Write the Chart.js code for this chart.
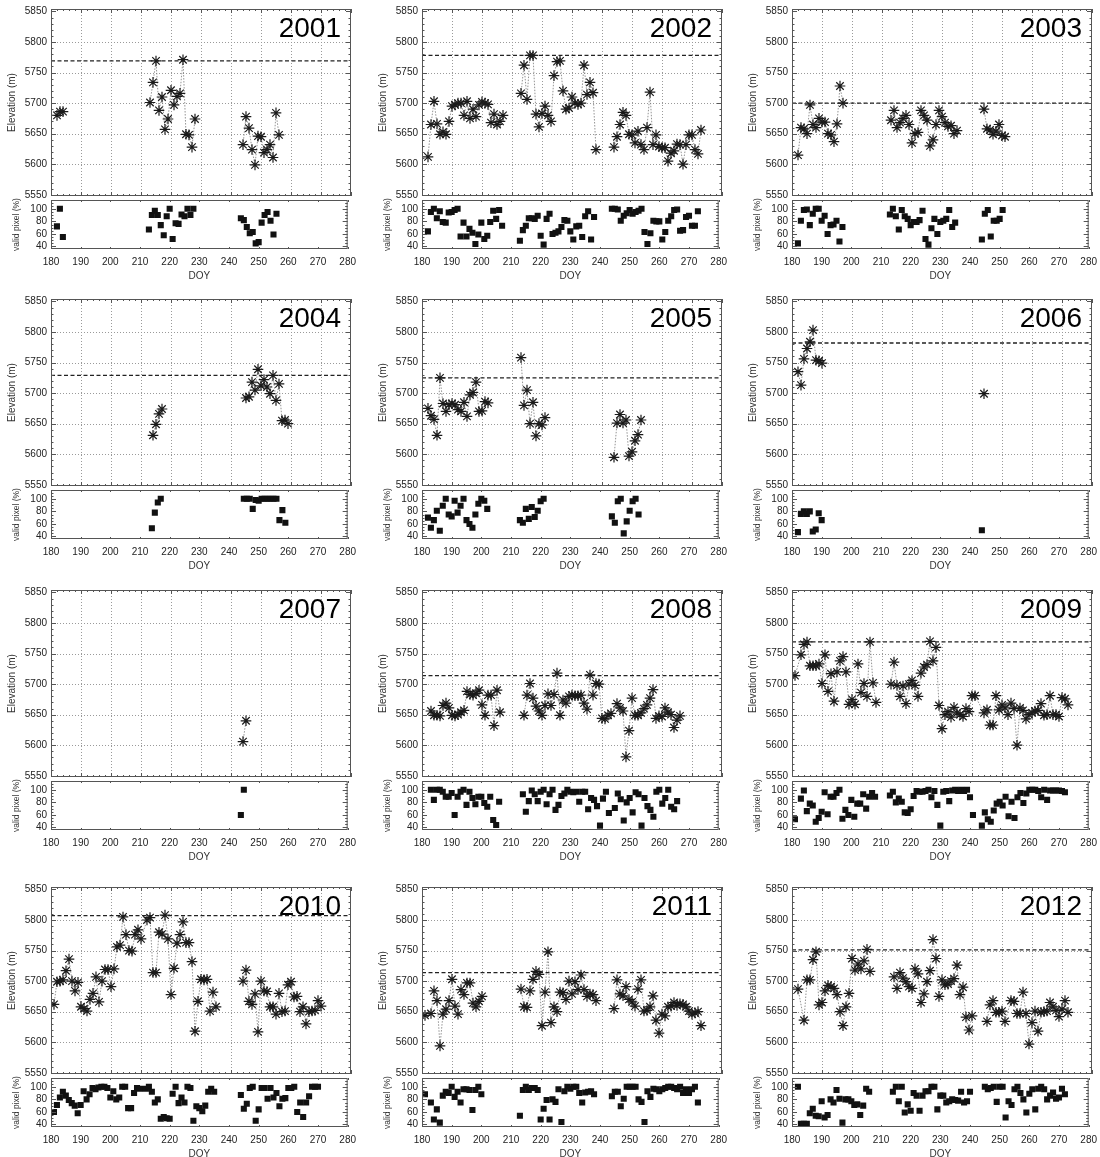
<!DOCTYPE html>
<html>
<head>
<meta charset="utf-8">
<script src="https://cdn.jsdelivr.net/npm/chart.js@4.4.1/dist/chart.umd.min.js"></script>
<style>
  body { margin: 0; background: #fff; overflow: hidden; }
  #page { position: relative; width: 1100px; height: 1157px; }
  canvas { position: absolute; }
</style>
</head>
<body>
<div id="page"></div>
<script>
// axis ticks
const doyTicks = [180, 190, 200, 210, 220, 230, 240, 250, 260, 270, 280];
const elevTicks = [5550, 5600, 5650, 5700, 5750, 5800, 5850];
const pixTicks = [40, 60, 80, 100];

const years = [2001, 2002, 2003, 2004, 2005, 2006, 2007, 2008, 2009, 2010, 2011, 2012];
// dashed reference elevation per year (none in 2007)
const snowLine = [5769, 5778, 5700, 5729, 5725, 5782, null, 5714, 5769, 5807, 5714, 5751];

const doy2001 = [182,183,184, 213,214,215,216,217,218,219,220,221,222,223,224,225,226,227,228, 244,245,246,247,248,249,250,251,252,253,254,255,256];
const elev2001 = [5680,5686,5686, 5701,5734,5769,5688,5710,5657,5674,5721,5697,5711,5716,5771,5649,5648,5628,5674, 5632,5678,5659,5624,5599,5646,5645,5619,5624,5632,5611,5684,5648];
const pix2001 = [72,100,55, 67,90,97,90,74,58,88,100,52,77,76,91,88,100,90,100, 85,82,71,61,63,45,47,78,90,95,81,59,92];

const doy2002 = [182,183,184,185,186,187,188,189,190,191,192,193,194,195,196,197,198,199,200,201,202,203,204,205,206,207,
  213,214,215,216,217,218,219,220,221,222,223,224,225,226,227,228,229,230,231,232,233,234,235,236,237,238,
  244,245,246,247,248,249,250,251,252,253,254,255,256,257,258,259,260,261,262,263,264,265,266,267,268,269,270,271,272,273];
const elev2002 = [5612,5665,5703,5666,5649,5653,5649,5670,5695,5697,5700,5700,5680,5703,5675,5690,5678,5697,5702,5700,5698,5668,5682,5665,5670,5680,
  5716,5762,5706,5778,5778,5682,5661,5683,5695,5680,5670,5745,5768,5769,5720,5690,5692,5710,5700,5698,5700,5762,5714,5734,5717,5624,
  5628,5645,5665,5685,5680,5649,5648,5635,5654,5632,5624,5660,5718,5632,5648,5629,5627,5627,5605,5618,5622,5633,5632,5600,5632,5648,5648,5624,5617,5656];
const pix2002 = [64,95,100,85,96,79,78,94,95,98,100,56,78,56,68,62,44,59,78,52,57,79,97,84,98,73,
  49,66,73,85,85,84,89,57,43,84,92,60,62,64,71,82,81,64,51,72,73,55,88,96,51,87,
  100,100,99,81,89,93,98,92,95,97,100,63,44,61,81,80,80,51,63,81,88,98,99,65,66,87,89,73,73,96];

const doy2003 = [182,183,184,185,186,187,188,189,190,191,192,193,194,195,196,197,
  213,214,215,216,217,218,219,220,221,222,223,224,225,226,227,228,229,230,231,232,233,234,235,
  244,245,246,247,248,249,250,251];
const elev2003 = [5615,5660,5658,5650,5697,5665,5660,5675,5669,5669,5650,5648,5637,5666,5728,5700,
  5672,5688,5660,5668,5675,5680,5665,5635,5650,5652,5688,5680,5672,5630,5640,5665,5688,5678,5668,5662,5663,5650,5655,
  5690,5658,5656,5649,5654,5665,5647,5645];
const pix2003 = [45,81,98,99,74,92,100,100,81,89,60,74,75,81,48,71,
  91,100,88,67,98,88,84,74,79,79,82,97,52,43,69,84,60,79,81,84,98,71,78,
  51,92,98,56,81,81,84,98];

const doy2004 = [214,215,216,217, 245,246,247,248,249,250,251,252,253,254,255,256,257,258,259];
const elev2004 = [5631,5649,5666,5674, 5692,5694,5718,5705,5739,5712,5722,5710,5699,5729,5688,5715,5655,5656,5650];
const pix2004 = [53,78,94,100, 100,100,100,84,98,97,100,100,100,100,100,100,66,82,62];

const doy2005 = [182,183,184,185,186,187,188,189,190,191,192,193,194,195,196,197,198,199,200,201,202,
  213,214,215,216,217,218,219,220,221, 244,245,246,247,248,249,250,251,252,253];
const elev2005 = [5675,5663,5657,5631,5725,5683,5670,5681,5683,5681,5673,5670,5685,5662,5697,5701,5718,5670,5671,5686,5684,
  5758,5680,5705,5650,5685,5630,5650,5648,5660, 5595,5651,5665,5651,5656,5597,5604,5622,5632,5656];
const pix2005 = [70,54,66,81,49,89,100,75,72,97,78,89,100,66,60,54,75,92,100,97,84,
  66,62,84,68,87,71,81,96,100, 72,62,96,100,45,64,81,96,100,75];

const doy2006 = [182,183,184,185,186,187,188,189,190, 244];
const elev2006 = [5735,5713,5756,5773,5784,5803,5754,5753,5749, 5699];
const pix2006 = [47,76,80,76,80,48,51,77,66, 50];

const doy2007 = [244, 245];
const elev2007 = [5606, 5640];
const pix2007 = [60, 100];

const doy2008 = [183,184,185,186,187,188,189,190,191,192,193,194,195,196,197,198,199,200,201,202,203,204,205,206,
  214,215,216,217,218,219,220,221,222,223,224,225,226,227,228,229,230,231,232,233,234,235,236,237,238,239,240,241,242,243,
  245,246,247,248,249,250,251,252,253,254,255,256,257,258,259,260,261,262,263,264,265,266];
const elev2008 = [5656,5649,5649,5648,5665,5669,5661,5649,5648,5650,5654,5657,5688,5683,5682,5685,5690,5666,5649,5682,5682,5632,5690,5654,
  5649,5682,5701,5677,5664,5656,5649,5665,5684,5665,5683,5718,5649,5674,5669,5680,5682,5681,5681,5682,5669,5659,5715,5682,5701,5700,5644,5643,5649,5652,
  5668,5661,5656,5581,5624,5677,5649,5649,5653,5660,5666,5677,5691,5644,5648,5647,5661,5654,5650,5629,5641,5648];
const pix2008 = [100,84,100,100,97,89,89,95,60,89,97,100,76,97,87,77,89,89,79,73,89,52,44,81,
  93,65,82,99,93,82,97,100,77,93,100,68,76,90,94,100,97,96,97,81,97,97,69,87,84,74,43,86,97,63,
  71,94,85,51,80,87,64,96,93,43,87,74,68,57,97,100,78,87,100,73,69,82];

const doy2009 = [181,183,184,185,186,187,188,189,190,191,192,193,194,195,196,197,198,199,200,201,202,203,204,205,206,207,208,
  213,214,215,216,217,218,219,220,221,222,223,224,225,226,227,228,229,230,231,232,233,234,235,236,237,238,239,240,241,
  244,245,246,247,248,249,250,251,252,253,254,255,256,257,258,259,260,261,262,263,264,265,266,267,268,269,270,271,272];
const elev2009 = [5714,5748,5765,5769,5730,5730,5730,5733,5701,5748,5688,5717,5672,5720,5738,5745,5720,5667,5675,5667,5733,5686,5701,5680,5769,5702,5670,
  5700,5736,5698,5680,5697,5668,5700,5706,5698,5680,5718,5728,5732,5770,5738,5760,5665,5627,5650,5655,5646,5662,5653,5650,5647,5660,5655,5681,5681,
  5653,5658,5633,5633,5681,5658,5666,5661,5650,5669,5660,5600,5661,5657,5643,5650,5653,5656,5657,5668,5649,5650,5681,5650,5650,5647,5678,5676,5666];
const pix2009 = [53,86,99,66,78,75,49,55,65,96,61,89,89,95,100,54,68,60,84,57,78,78,93,70,89,95,89,
  91,97,80,86,81,64,63,69,90,98,97,97,98,100,88,98,76,43,97,98,82,99,100,98,100,98,100,88,60,
  43,64,53,49,67,78,81,75,89,58,81,55,88,95,79,94,100,100,100,98,88,100,84,99,99,99,99,98,96];

const doy2010 = [181,182,183,184,185,186,187,188,189,190,191,192,193,194,195,196,197,198,199,200,201,202,203,204,205,206,207,208,209,210,
  212,213,214,215,216,217,218,219,220,221,222,223,224,225,226,227,228,229,230,231,232,233,234,235,
  244,245,246,247,248,249,250,251,252,253,254,255,256,257,258,259,260,261,262,263,264,265,266,267,268,269,270];
const elev2010 = [5662,5699,5700,5702,5717,5736,5700,5684,5698,5658,5655,5651,5670,5680,5707,5666,5700,5719,5719,5691,5720,5756,5759,5805,5776,5750,5749,5776,5784,5769,
  5800,5804,5714,5714,5780,5777,5808,5769,5678,5721,5762,5776,5797,5763,5763,5732,5618,5667,5703,5702,5703,5651,5682,5658,
  5700,5718,5667,5662,5679,5617,5700,5684,5683,5658,5658,5646,5680,5650,5651,5694,5699,5674,5675,5650,5658,5630,5650,5651,5652,5668,5659];
const pix2010 = [60,71,83,92,86,79,74,70,58,71,93,80,88,98,96,99,100,100,98,83,93,80,83,100,100,66,66,90,98,97,
  97,100,92,75,80,49,52,50,49,89,100,74,83,75,100,98,46,69,66,61,70,92,97,92,
  87,65,73,98,100,46,64,98,98,81,98,83,90,69,81,82,98,98,100,60,75,52,75,85,100,100,100];

const doy2011 = [181,183,184,185,186,187,188,189,190,191,192,193,194,195,196,197,198,199,200,
  213,214,215,216,217,218,219,220,221,222,223,224,225,226,227,228,229,230,231,232,233,234,235,236,237,238,
  244,245,246,247,248,249,250,251,252,253,254,255,256,257,258,259,260,261,262,263,264,265,266,267,268,269,270,271,272,273];
const elev2011 = [5644,5647,5684,5668,5594,5646,5654,5668,5703,5659,5646,5686,5678,5697,5697,5664,5658,5667,5675,
  5687,5658,5657,5684,5703,5716,5711,5627,5682,5748,5632,5658,5650,5682,5681,5670,5700,5679,5699,5686,5710,5686,5675,5679,5678,5668,
  5655,5702,5679,5676,5691,5670,5666,5659,5687,5702,5651,5652,5658,5676,5636,5615,5646,5643,5658,5659,5665,5660,5663,5662,5658,5651,5646,5648,5650,5627];
const pix2011 = [88,75,48,64,43,86,92,90,100,84,92,75,96,96,95,63,95,100,88,
  54,95,100,95,98,98,95,48,65,79,48,80,76,96,44,93,100,97,100,100,90,75,91,92,93,88,
  85,92,92,69,81,100,100,100,100,80,76,44,93,84,97,96,93,96,98,100,100,98,96,100,90,96,90,96,100,75];

const doy2012 = [182,183,184,185,186,187,188,189,190,191,192,193,194,195,196,197,198,199,200,201,202,203,204,205,206,
  214,215,216,217,218,219,220,221,222,223,224,225,226,227,228,229,230,231,232,233,234,235,236,237,238,239,240,
  245,246,247,248,249,250,251,252,253,254,255,256,257,258,259,260,261,262,263,264,265,266,267,268,269,270,271,272];
const elev2012 = [5687,null,5636,5702,5702,5735,5748,5661,5665,5684,5693,5691,5688,5678,5650,5627,5658,5680,5737,5718,5728,5720,5733,5752,5716,
  5707,5688,5714,5705,5699,5691,5688,5720,5712,5665,5679,5699,5717,5768,5737,5675,5702,5694,5695,5700,5704,5726,5678,5690,5641,5620,5643,
  5634,5661,5668,5649,5649,5651,5634,null,5668,5667,5647,5647,5682,5647,5597,5632,5651,5618,5649,5650,5651,5665,5658,5652,5642,5654,5668,5649];
const pix2012 = [100,41,41,41,58,65,54,53,77,51,55,80,75,95,81,43,80,80,77,71,72,55,70,97,92,
  92,100,77,100,59,72,62,90,86,62,86,93,93,100,100,64,86,86,75,77,80,79,78,92,75,77,92,
  100,96,98,100,76,100,100,51,77,71,96,100,90,80,59,89,96,64,97,100,96,80,86,91,81,83,97,88];

const doys = [doy2001, doy2002, doy2003, doy2004, doy2005, doy2006, doy2007, doy2008, doy2009, doy2010, doy2011, doy2012];
const elevs = [elev2001, elev2002, elev2003, elev2004, elev2005, elev2006, elev2007, elev2008, elev2009, elev2010, elev2011, elev2012];
const pixs = [pix2001, pix2002, pix2003, pix2004, pix2005, pix2006, pix2007, pix2008, pix2009, pix2010, pix2011, pix2012];

// page geometry
const colLeft = [0, 371, 741];
const rowTop = [7, 297, 588, 885];
const AXIS_W = 51, PLOT_W = 300, RIGHT_PAD = 12, PAD = 8;
const ELEV_H = 191, PIX_H = 51, DOY_H = 34;

Chart.defaults.font.family = '"Liberation Sans", Arial, Helvetica, sans-serif';
Chart.defaults.color = '#222';

// frame, inward ticks, dotted grid and the year label
const panelFrame = {
  id: 'panelFrame',
  beforeDatasetsDraw(chart, args, o) {
    if (!o.grid) return;
    const { ctx, chartArea: a, scales: { x, y } } = chart;
    ctx.save();
    ctx.strokeStyle = '#9a9a9a';
    ctx.lineWidth = 1;
    ctx.setLineDash([1, 2]);
    ctx.beginPath();
    doyTicks.slice(1, -1).forEach(v => {
      const px = Math.round(x.getPixelForValue(v)) + 0.5;
      ctx.moveTo(px, a.top); ctx.lineTo(px, a.bottom);
    });
    elevTicks.slice(1, -1).forEach(v => {
      const py = Math.round(y.getPixelForValue(v)) + 0.5;
      ctx.moveTo(a.left, py); ctx.lineTo(a.right, py);
    });
    ctx.stroke();
    ctx.restore();
  },
  afterDatasetsDraw(chart, args, o) {
    const { ctx, chartArea: a, scales: { x, y } } = chart;
    ctx.save();
    ctx.strokeStyle = '#555';
    ctx.lineWidth = 1;
    ctx.beginPath();
    for (let v = x.min; v <= x.max; v += o.xMinor) {
      const px = Math.round(x.getPixelForValue(v)) + 0.5;
      const len = v % o.xMajor === 0 ? o.xLen : o.xLen / 2;
      ctx.moveTo(px, a.top); ctx.lineTo(px, a.top + len);
      ctx.moveTo(px, a.bottom); ctx.lineTo(px, a.bottom - len);
    }
    for (let v = Math.ceil(y.min / o.yMinor) * o.yMinor; v <= y.max; v += o.yMinor) {
      const py = Math.round(y.getPixelForValue(v)) + 0.5;
      const len = v % o.yMajor === 0 ? o.yLen : o.yLen / 2;
      ctx.moveTo(a.left, py); ctx.lineTo(a.left + len, py);
      ctx.moveTo(a.right, py); ctx.lineTo(a.right - len, py);
    }
    ctx.stroke();
    ctx.strokeRect(a.left + 0.5, a.top + 0.5, a.right - a.left - 1, a.bottom - a.top - 1);
    if (o.year) {
      ctx.fillStyle = '#000';
      ctx.font = '28px "Liberation Sans", Arial, sans-serif';
      ctx.textAlign = 'right';
      ctx.textBaseline = 'alphabetic';
      ctx.fillText(String(o.year), a.right - 10, a.top + 28);
    }
    ctx.restore();
  }
};

const page = document.getElementById('page');

function addCanvas(left, top, w, h) {
  const c = document.createElement('canvas');
  c.width = w; c.height = h;
  c.style.left = left + 'px'; c.style.top = top + 'px';
  c.style.width = w + 'px'; c.style.height = h + 'px';
  page.appendChild(c);
  return c;
}

const toPoints = (xs, ys) => xs.map((d, k) => ({ x: d, y: ys[k] })).filter(p => p.y !== null);

function leftAxis(min, max, ticks, title, titleSize, titlePad) {
  return {
    min, max,
    afterBuildTicks: s => { s.ticks = ticks.map(v => ({ value: v })); },
    afterFit: s => { s.width = AXIS_W; },
    grid: { display: false, drawTicks: false },
    border: { display: false },
    ticks: { padding: 4, font: { size: 10 }, callback: v => String(v) },
    title: { display: true, text: title, color: '#333', font: { size: titleSize }, padding: { top: titlePad, bottom: 0 } }
  };
}

years.forEach((year, i) => {
  const left = colLeft[i % 3];
  const top = rowTop[Math.floor(i / 3)];
  const w = AXIS_W + PLOT_W + RIGHT_PAD;

  // elevation panel
  const elevSets = [{
    data: toPoints(doys[i], elevs[i]),
    showLine: true,
    spanGaps: 4,
    borderColor: '#777',
    borderWidth: 0.8,
    borderDash: [1.5, 1.5],
    pointStyle: 'star',
    pointRadius: 5.3,
    pointBorderColor: '#1a1a1a',
    pointBorderWidth: 1.2
  }];
  if (snowLine[i] !== null) {
    elevSets.push({
      data: [{ x: doyTicks[0], y: snowLine[i] }, { x: doyTicks[doyTicks.length - 1], y: snowLine[i] }],
      borderColor: '#222',
      borderWidth: 1.3,
      borderDash: [4, 2.5],
      pointRadius: 0
    });
  }
  new Chart(addCanvas(left, top - PAD, w, PAD + ELEV_H + PAD), {
    type: 'line',
    data: { datasets: elevSets },
    options: {
      responsive: false,
      animation: false,
      events: [],
      layout: { padding: { top: PAD, bottom: PAD, left: 0, right: RIGHT_PAD } },
      plugins: {
        legend: { display: false },
        tooltip: { enabled: false },
        panelFrame: { grid: true, xMinor: 2, xMajor: 10, xLen: 4, yMinor: 10, yMajor: 50, yLen: 5, year }
      },
      scales: {
        x: { type: 'linear', display: false, min: 180, max: 280 },
        y: leftAxis(5548, 5854, elevTicks, 'Elevation (m)', 10, 6)
      }
    },
    plugins: [panelFrame]
  });

  // valid pixel panel
  new Chart(addCanvas(left, top + ELEV_H - PAD, w, PAD + PIX_H + DOY_H), {
    type: 'line',
    data: {
      datasets: [{
        data: toPoints(doys[i], pixs[i]),
        showLine: false,
        pointStyle: 'rect',
        pointRadius: 4.3,
        pointBackgroundColor: '#111',
        pointBorderWidth: 0
      }]
    },
    options: {
      responsive: false,
      animation: false,
      events: [],
      layout: { padding: { top: PAD, bottom: 0, left: 0, right: RIGHT_PAD } },
      plugins: {
        legend: { display: false },
        tooltip: { enabled: false },
        panelFrame: { grid: false, xMinor: 2, xMajor: 10, xLen: 2, yMinor: 5, yMajor: 20, yLen: 5 }
      },
      scales: {
        x: {
          type: 'linear', min: 180, max: 280,
          afterBuildTicks: s => { s.ticks = doyTicks.map(v => ({ value: v })); },
          afterFit: s => { s.height = DOY_H; },
          grid: { display: false, drawTicks: false },
          border: { display: false },
          ticks: { padding: 7, font: { size: 10 }, maxRotation: 0, autoSkip: false, callback: v => String(v) },
          title: { display: true, text: 'DOY', color: '#333', font: { size: 10 }, padding: { top: 0, bottom: 1 } }
        },
        y: leftAxis(36, 114, pixTicks, 'valid pixel (%)', 8.5, 12)
      }
    },
    plugins: [panelFrame]
  });
});
</script>
</body>
</html>
